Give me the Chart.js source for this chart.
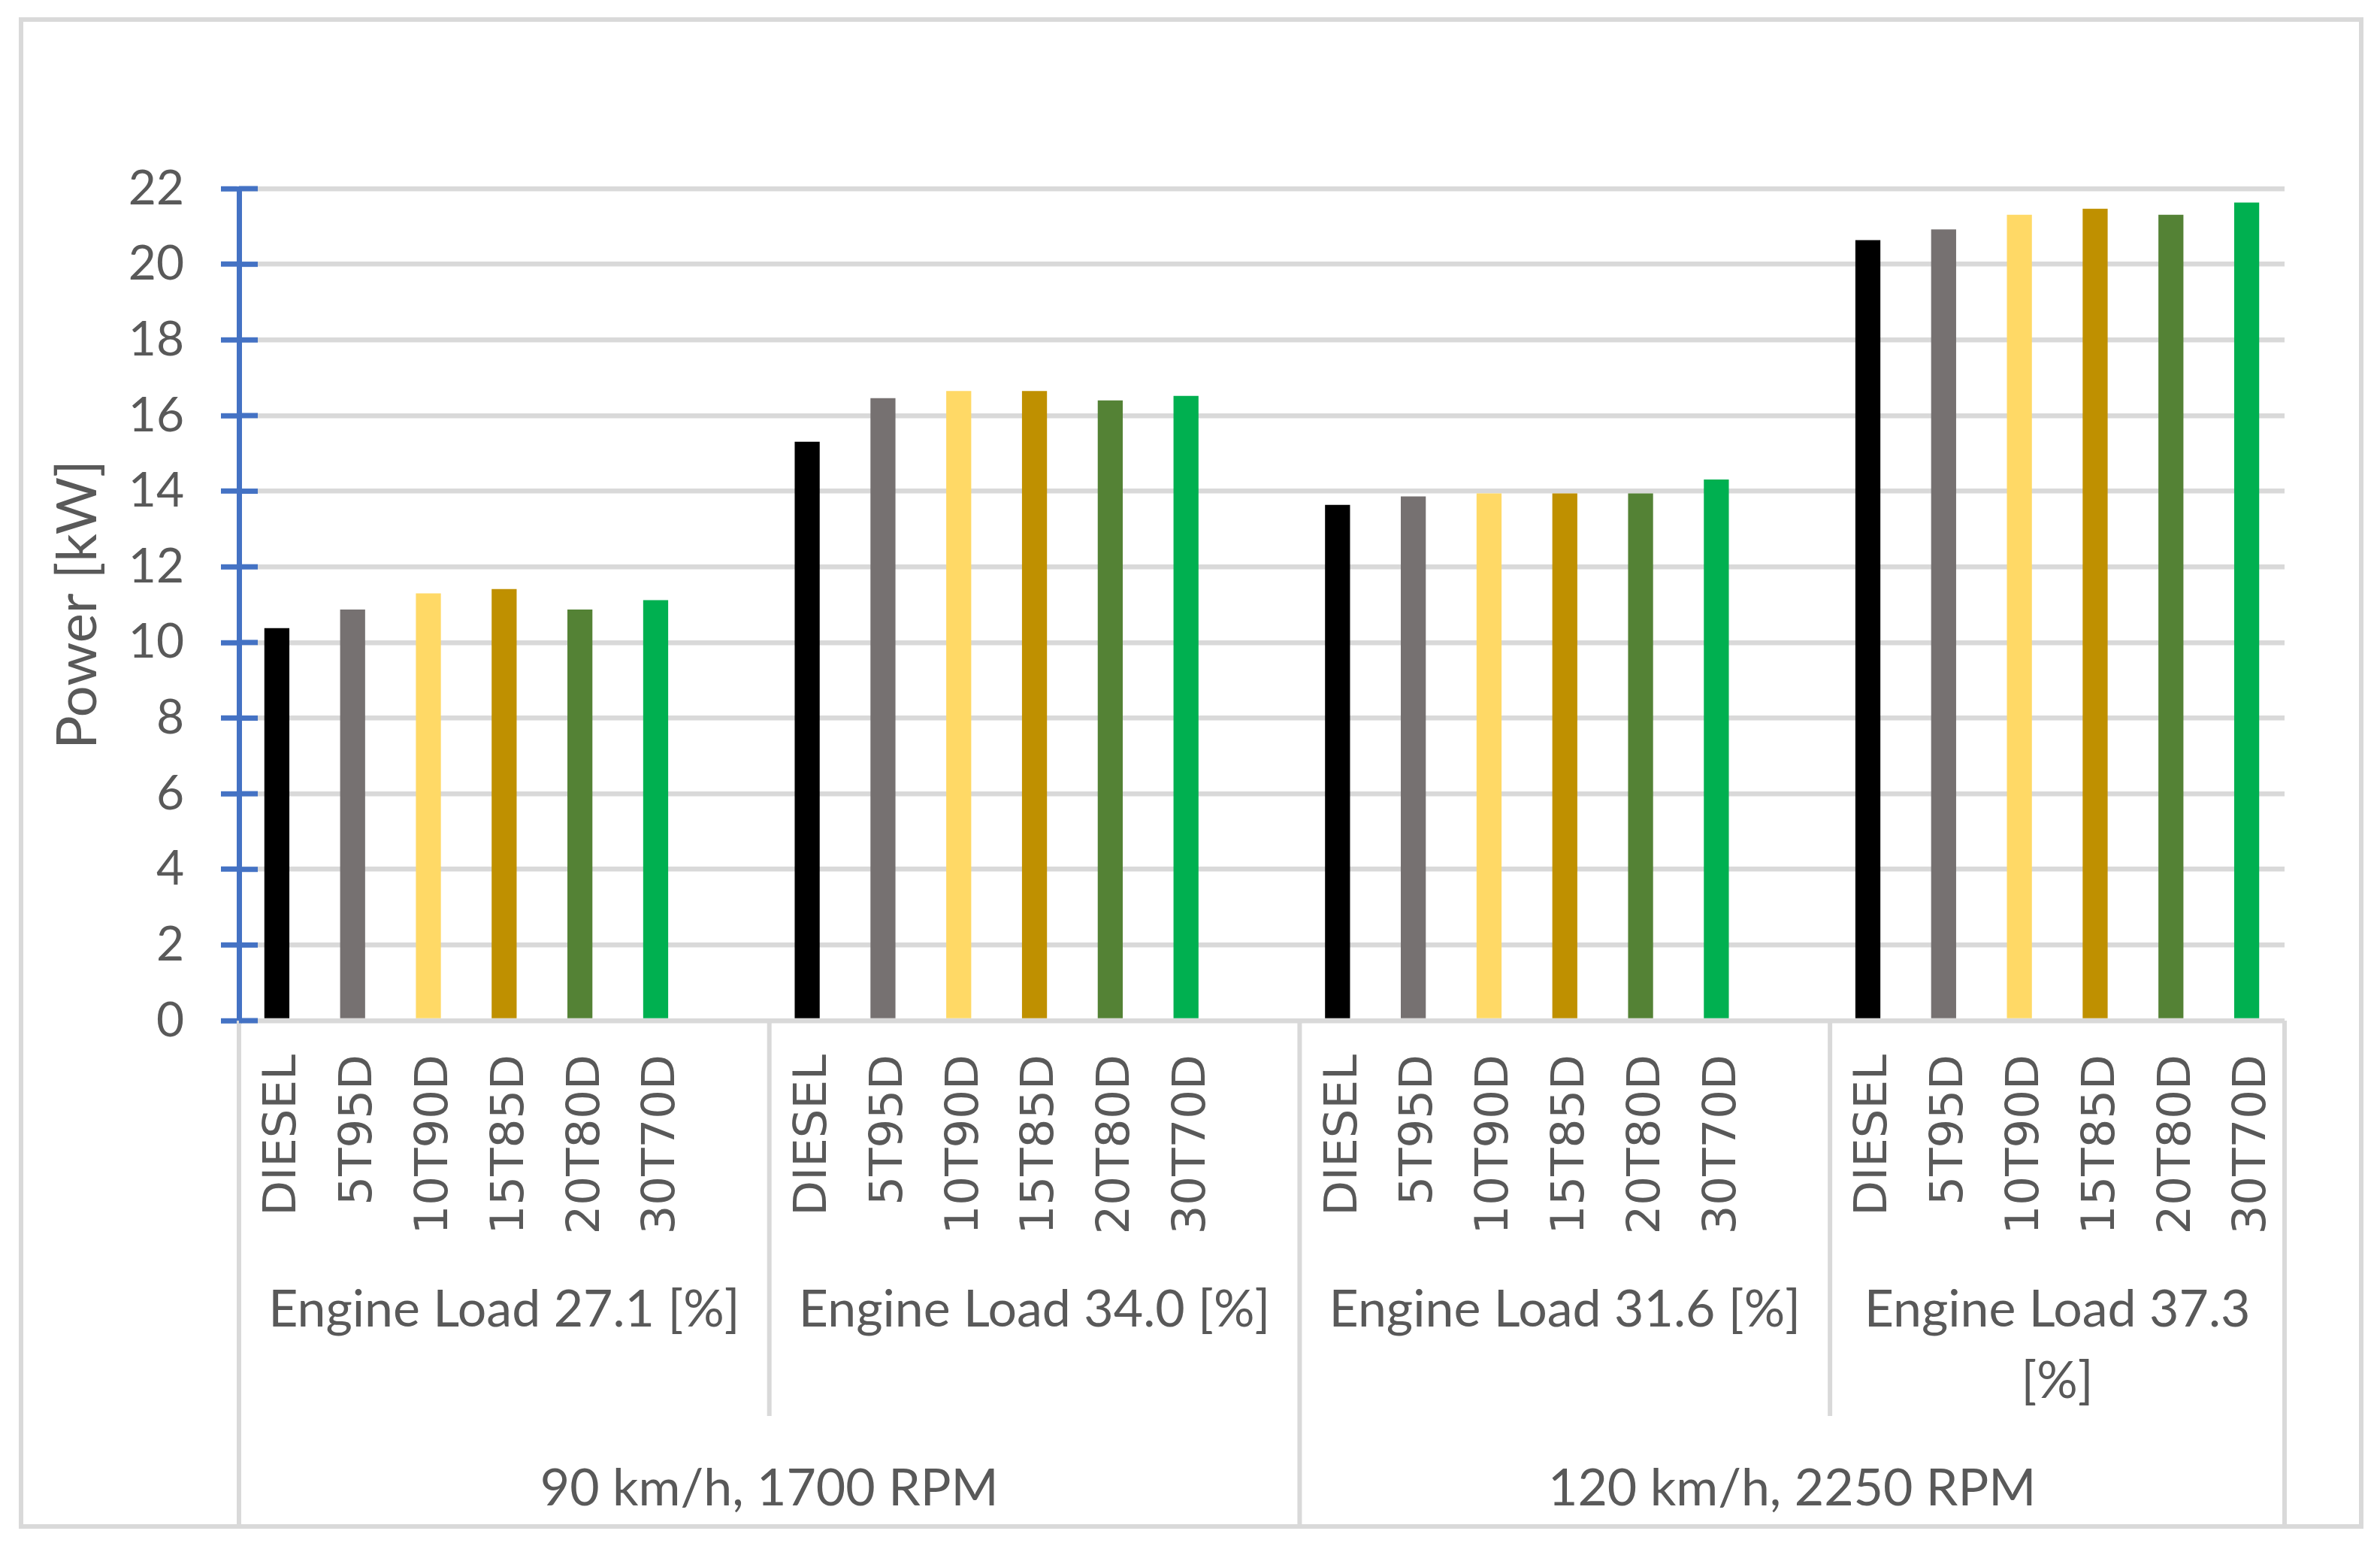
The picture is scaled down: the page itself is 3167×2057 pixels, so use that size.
<!DOCTYPE html>
<html>
<head>
<meta charset="utf-8">
<script src="https://cdn.jsdelivr.net/npm/chart.js@4.4.1/dist/chart.umd.min.js"></script>
<style>
  html, body { margin: 0; padding: 0; background: #fff; }
  canvas { display: block; }
</style>
</head>
<body>
<canvas id="powerChart" width="3167" height="2057"></canvas>
<script>
// ==========================
// DATA
// ==========================
const fuels = ["DIESEL", "5T95D", "10T90D", "15T85D", "20T80D", "30T70D"];
const loadLabels = ["Engine Load 27.1 [%]", "Engine Load 34.0 [%]", "Engine Load 31.6 [%]", "Engine Load 37.3 [%]"];
const speedLabels = ["90 km/h, 1700 RPM", "120 km/h, 2250 RPM"];
const speedOfLoad = [0, 0, 1, 1];

const power271 = [10.38, 10.87, 11.30, 11.41, 10.87, 11.12];
const power340 = [15.31, 16.46, 16.65, 16.65, 16.40, 16.52];
const power316 = [13.64, 13.86, 13.94, 13.94, 13.94, 14.31];
const power373 = [20.64, 20.92, 21.31, 21.47, 21.31, 21.63];

const yMin = 0, yMax = 22, yStep = 2;

const fuelColors = ["#000000", "#767171", "#FFD966", "#BF9000", "#548235", "#00B050"];
const textColor = "#595959";
const lineGray = "#D9D9D9";
const axisBlue = "#4472C4";

// flatten into one category axis, blank slot between groups (like the excel sheet)
const loadPower = [power271, power340, power316, power373];
const labels = [], values = [], colors = [], loadSpans = [];
loadPower.forEach((vals, g) => {
    const start = labels.length;
    vals.forEach((v, i) => {
        labels.push(fuels[i]);
        values.push(v);
        colors.push(fuelColors[i]);
    });
    if (g < loadPower.length - 1) {
        labels.push("");
        values.push(null);
        colors.push("#ffffff");
    }
    loadSpans.push([start, labels.length]);
});

// ==========================
// MULTI LEVEL AXIS + FRAME
// ==========================
const tablePlugin = {
    id: "excelTable",
    afterDraw(chart) {
        const { ctx, chartArea: area, scales: { x, y } } = chart;
        const step = x.getPixelForValue(1) - x.getPixelForValue(0);
        const edge = i => x.getPixelForValue(i) - step / 2;
        const bottom = 2031;
        const band1 = 1884;

        ctx.save();
        ctx.strokeStyle = lineGray;
        ctx.lineWidth = 6;

        // outer chart border
        ctx.strokeRect(28, 26, 3114, bottom - 26);

        // table verticals
        const vline = (px, y2) => {
            ctx.beginPath();
            ctx.moveTo(px, area.bottom);
            ctx.lineTo(px, y2);
            ctx.stroke();
        };
        vline(area.left, bottom);
        loadSpans.forEach((span, g) => {
            const xb = edge(span[1]);
            if (g === loadSpans.length - 1) {
                vline(area.right, bottom);
            } else {
                vline(xb, speedOfLoad[g] !== speedOfLoad[g + 1] ? bottom : band1);
            }
        });

        // blue cross ticks on the inside of the value axis
        ctx.strokeStyle = axisBlue;
        ctx.lineWidth = 7;
        for (let v = yMin; v <= yMax; v += yStep) {
            const py = y.getPixelForValue(v);
            ctx.beginPath();
            ctx.moveTo(area.left, py);
            ctx.lineTo(area.left + 25, py);
            ctx.stroke();
        }

        // group labels
        ctx.fillStyle = textColor;
        ctx.font = "68px Lato";
        ctx.textAlign = "center";
        ctx.textBaseline = "middle";
        loadSpans.forEach((span, g) => {
            const x0 = edge(span[0]);
            const x1 = g === loadSpans.length - 1 ? area.right : edge(span[1]);
            const maxW = x1 - x0 - 30;
            const words = loadLabels[g].split(" ");
            const lines = [];
            let line = "";
            words.forEach(w => {
                const test = line ? line + " " + w : w;
                if (ctx.measureText(test).width > maxW && line) {
                    lines.push(line);
                    line = w;
                } else {
                    line = test;
                }
            });
            lines.push(line);
            lines.forEach((l, i) => ctx.fillText(l, (x0 + x1) / 2, 1743 + i * 95));
        });

        speedLabels.forEach((lab, s) => {
            const idx = speedOfLoad.map((v, g) => v === s ? g : -1).filter(g => g >= 0);
            const x0 = edge(loadSpans[idx[0]][0]);
            const last = idx[idx.length - 1];
            const x1 = last === loadSpans.length - 1 ? area.right : edge(loadSpans[last][1]);
            ctx.fillText(lab, (x0 + x1) / 2, 1981);
        });
        ctx.restore();
    }
};

// ==========================
// CHART
// ==========================
new Chart(document.getElementById("powerChart"), {
    type: "bar",
    data: {
        labels,
        datasets: [{
            data: values,
            backgroundColor: colors,
            borderWidth: 0,
            barPercentage: 0.33,
            categoryPercentage: 1
        }]
    },
    options: {
        responsive: false,
        devicePixelRatio: 1,
        animation: false,
        layout: {
            padding: { left: 0, right: 127, top: 251, bottom: 0 }
        },
        plugins: {
            legend: { display: false },
            tooltip: { enabled: false }
        },
        scales: {
            x: {
                afterFit: s => { s.height = 2057 - 1358; },
                grid: { display: false, drawTicks: false },
                border: { display: false },
                ticks: {
                    autoSkip: false,
                    minRotation: 90,
                    maxRotation: 90,
                    padding: 45,
                    labelOffset: 9,
                    color: textColor,
                    font: { family: "DejaVu Sans", size: 61 }
                }
            },
            y: {
                min: yMin,
                max: yMax,
                afterFit: s => { s.width = 318; },
                grid: {
                    color: lineGray,
                    lineWidth: 6.6,
                    tickColor: axisBlue,
                    tickWidth: 7,
                    tickLength: 24
                },
                border: { color: axisBlue, width: 7 },
                ticks: {
                    stepSize: yStep,
                    padding: 49,
                    color: textColor,
                    font: { family: "Lato", size: 64 }
                },
                title: {
                    display: true,
                    text: "Power [kW]",
                    color: textColor,
                    font: { family: "Lato", size: 74 },
                    padding: { top: 60, bottom: 0 }
                }
            }
        }
    },
    plugins: [tablePlugin]
});
</script>
</body>
</html>
